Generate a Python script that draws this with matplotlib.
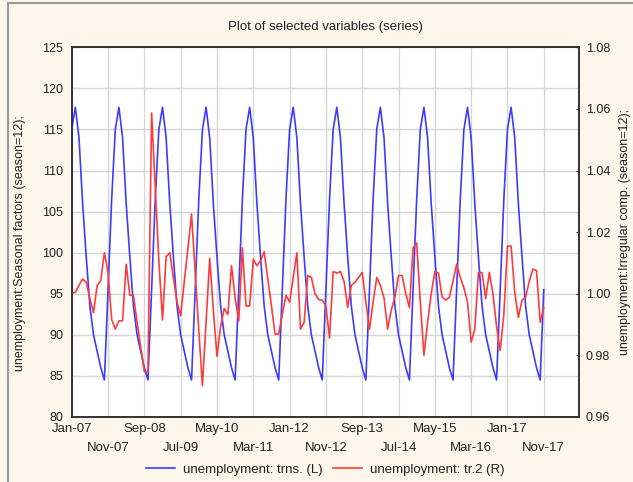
import matplotlib.pyplot as plt
from matplotlib.patches import Rectangle

plt.rcParams['font.family'] = ['Liberation Sans', 'DejaVu Sans']

# Etiquetas del eje x (cada 10 meses, desde Jan-07)
etiquetas_x = ["Jan-07", "Nov-07", "Sep-08", "Jul-09", "May-10", "Mar-11", "Jan-12",
               "Nov-12", "Sep-13", "Jul-14", "May-15", "Mar-16", "Jan-17", "Nov-17"]

# Factores estacionales (eje izquierdo), un valor por mes, Jan-07 .. Nov-17
estacional = [
    115.0, 117.7, 114.0, 106.0, 99.5, 93.5, 90.0, 88.0, 86.0, 84.5, 95.5, 106.5,
    115.0, 117.7, 114.0, 106.0, 99.5, 93.5, 90.0, 88.0, 86.0, 84.5, 95.5, 106.5,
    115.0, 117.7, 114.0, 106.0, 99.5, 93.5, 90.0, 88.0, 86.0, 84.5, 95.5, 106.5,
    115.0, 117.7, 114.0, 106.0, 99.5, 93.5, 90.0, 88.0, 86.0, 84.5, 95.5, 106.5,
    115.0, 117.7, 114.0, 106.0, 99.5, 93.5, 90.0, 88.0, 86.0, 84.5, 95.5, 106.5,
    115.0, 117.7, 114.0, 106.0, 99.5, 93.5, 90.0, 88.0, 86.0, 84.5, 95.5, 106.5,
    115.0, 117.7, 114.0, 106.0, 99.5, 93.5, 90.0, 88.0, 86.0, 84.5, 95.5, 106.5,
    115.0, 117.7, 114.0, 106.0, 99.5, 93.5, 90.0, 88.0, 86.0, 84.5, 95.5, 106.5,
    115.0, 117.7, 114.0, 106.0, 99.5, 93.5, 90.0, 88.0, 86.0, 84.5, 95.5, 106.5,
    115.0, 117.7, 114.0, 106.0, 99.5, 93.5, 90.0, 88.0, 86.0, 84.5, 95.5, 106.5,
    115.0, 117.7, 114.0, 106.0, 99.5, 93.5, 90.0, 88.0, 86.0, 84.5, 95.5,
]

# Componente irregular (eje derecho)
irregular = [
    1.0000, 1.0005, 1.0027, 1.0048, 1.0037, 0.9984, 0.9939, 1.0027, 1.0043, 1.0133, 1.0069, 0.9917,
    0.9885, 0.9912, 0.9912, 1.0096, 0.9995, 0.9995, 0.9907, 0.9827, 0.9747, 0.9747, 1.0587, 1.0347,
    1.0107, 0.9915, 1.0120, 1.0133, 1.0053, 0.9973, 0.9928, 1.0040, 1.0147, 1.0259, 1.0067, 0.9880,
    0.9701, 0.9907, 1.0115, 0.9947, 0.9797, 0.9893, 0.9952, 0.9933, 1.0091, 0.9987, 0.9912, 1.0149,
    0.9960, 0.9960, 1.0112, 1.0091, 1.0107, 1.0136, 1.0048, 0.9960, 0.9869, 0.9869, 0.9933, 0.9995,
    0.9973, 1.0053, 1.0133, 0.9885, 0.9907, 1.0059, 1.0053, 1.0000, 0.9981, 0.9979, 0.9960, 0.9856,
    1.0072, 1.0067, 1.0072, 1.0040, 0.9955, 1.0027, 1.0037, 1.0053, 1.0069, 0.9973, 0.9885, 0.9973,
    1.0053, 1.0027, 0.9987, 0.9885, 0.9947, 0.9989, 1.0059, 1.0059, 1.0000, 0.9955, 1.0149, 1.0165,
    0.9973, 0.9800, 0.9907, 1.0000, 1.0072, 1.0067, 0.9989, 0.9979, 0.9989, 1.0040, 1.0096, 1.0053,
    1.0019, 0.9973, 0.9843, 0.9885, 1.0069, 1.0069, 0.9984, 1.0069, 1.0000, 0.9893, 0.9816, 0.9933,
    1.0155, 1.0155, 1.0005, 0.9923, 0.9979, 0.9989, 1.0040, 1.0080, 1.0075, 0.9907, 0.9955,
]

ticks_der = [0.96, 0.98, 1.00, 1.02, 1.04, 1.06, 1.08]

meses = list(range(len(estacional)))
fs = 9.5
gris = '#222222'

fig = plt.figure(figsize=(6.33, 4.82), dpi=100, facecolor='#fcf7ea')
# marco gris de la ventana
fig.patches.append(Rectangle((8 / 633, -0.01), 1.0, 1 - 3 / 482 + 0.01, transform=fig.transFigure,
                             fill=False, edgecolor='#9a9a9a', linewidth=1.5))

ax = fig.add_axes([0.1133, 0.1349, 0.8014, 0.767])
ax.set_facecolor('white')

l1, = ax.plot(meses, estacional, color='#3c3cff', linewidth=1.2, label='unemployment: trns. (L)')
ax.set_ylim(80, 125)
ax.set_yticks(range(80, 126, 5))
ax.set_xlim(0, 139.7)

# etiquetas del eje x en dos filas
ax.set_xticks(range(0, 131, 20))
ax.set_xticklabels(etiquetas_x[0::2])
ax.set_xticks(range(10, 131, 20), minor=True)
ax.set_xticklabels(etiquetas_x[1::2], minor=True)
ax.tick_params(axis='x', which='major', length=0, pad=4.5, labelsize=fs, labelcolor=gris)
ax.tick_params(axis='x', which='minor', length=0, pad=18, labelsize=fs, labelcolor=gris)
ax.tick_params(axis='y', length=0, pad=6, labelsize=9, labelcolor=gris)
ax.grid(True, which='both', color='#d6d6d6', linewidth=1.0)
ax.set_axisbelow(True)
ax.set_ylabel('unemployment:Seasonal factors (season=12);', fontsize=9, color=gris)
ax.yaxis.set_label_coords(-0.09, 0.47)

ax2 = ax.twinx()
l2, = ax2.plot(meses, irregular, color='#ff3c3c', linewidth=1.2, label='unemployment: tr.2 (R)')
ax2.set_ylim(0.96, 1.08)
ax2.set_yticks(ticks_der)
ax2.set_yticklabels([f"{v:.2f}" for v in ticks_der])
ax2.tick_params(axis='y', direction='in', length=2, pad=5, labelsize=9, labelcolor=gris, color='#333333')
ax2.set_ylabel('unemployment:Irregular comp. (season=12);', fontsize=9, color=gris)
ax2.yaxis.set_label_coords(1.079, 0.5)

for a in (ax, ax2):
    for s in a.spines.values():
        s.set_color('#333333')
        s.set_linewidth(1.2)

fig.text(0.514, 0.944, 'Plot of selected variables (series)', ha='center', va='center', fontsize=fs, color=gris)

fig.legend([l1, l2], [l1.get_label(), l2.get_label()], loc='center', bbox_to_anchor=(0.514, 0.025),
           ncol=2, frameon=False, fontsize=fs, handlelength=2.2, handletextpad=0.6, columnspacing=0.8,
           labelcolor=gris)

plt.savefig('out.png', dpi=100, facecolor=fig.get_facecolor())
